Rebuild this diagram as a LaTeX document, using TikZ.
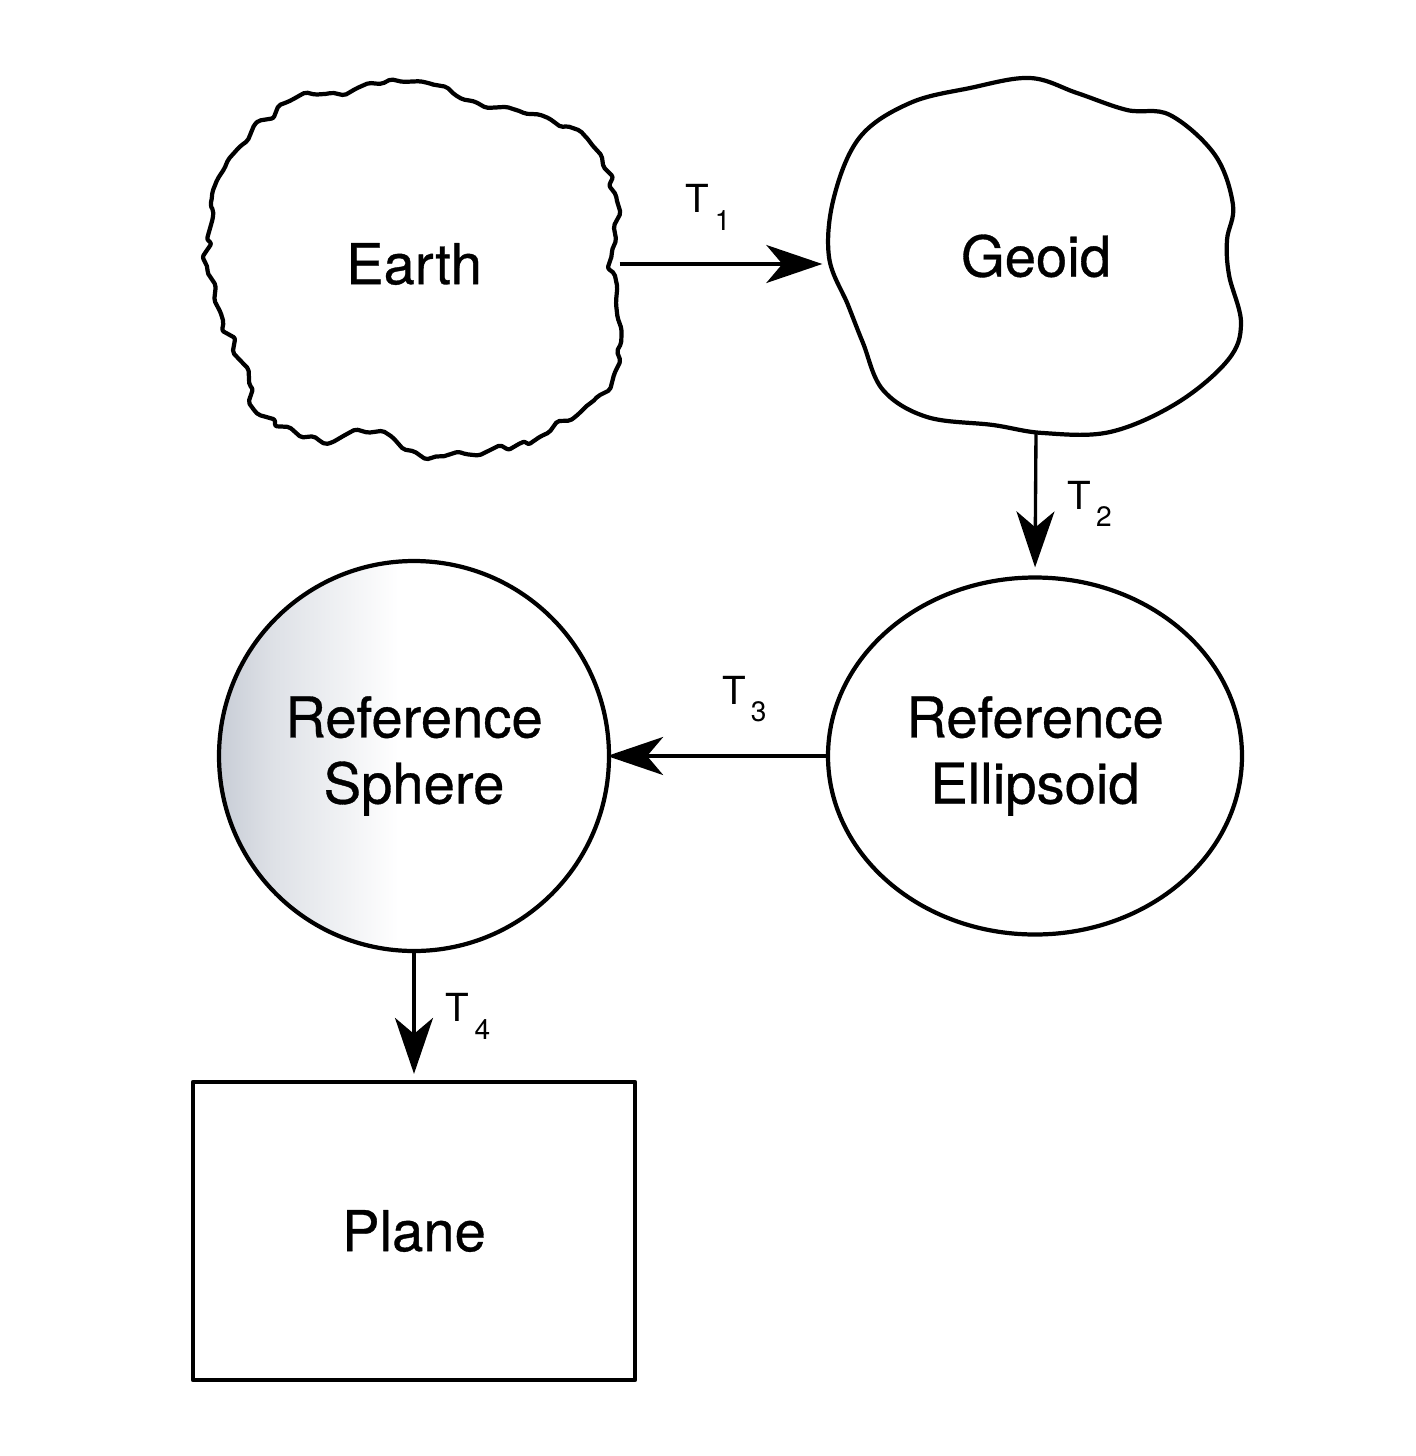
\documentclass[tikz,border=0pt]{standalone}
\usepackage{fontspec}
\setmainfont{TeX Gyre Heros}[BoldFont=TeX Gyre Heros, BoldFeatures={FakeBold=0.6}]
\usepackage{tikz}
\usetikzlibrary{arrows.meta,shapes.geometric,decorations.pathmorphing}

\definecolor{sphereshade}{RGB}{200,205,214}
\pgfdeclarehorizontalshading{spherefade}{100bp}{color(0bp)=(sphereshade); color(25bp)=(sphereshade); color(32bp)=(sphereshade!60); color(48bp)=(white); color(100bp)=(white)}
\newcommand{\tlab}[1]{T\kern1.5pt\raisebox{-5pt}{\fontsize{8}{8}\selectfont #1}}

\begin{document}
\begin{tikzpicture}[x=0.1mm,y=-0.1mm]
\tikzstyle{every node}=[inner sep=0pt, font=\fontsize{16}{18.8}\selectfont\bfseries, align=center]
\tikzstyle{outline}=[line width=1.2pt, line join=round]
\tikzstyle{conn}=[line width=0.95pt, -{Stealth[length=5.6mm, width=3.8mm, inset=1.6mm]}]
\tikzstyle{tnode}=[font=\fontsize{11}{11}\selectfont\mdseries]
\useasboundingbox (0,0) rectangle (1415,1456);
\pgfmathsetseed{11}
% rough earth and smooth geoid
\draw[outline, rounded corners=0.6pt, decorate, decoration={random steps, segment length=3.2pt, amplitude=1.5pt}]
  plot[smooth cycle] coordinates {(380,84) (430,84) (473,101) (523,113) (590,143) (616,197) (612,253) (616,303) (619,363) (590,403) (523,442) (440,456) (370,433) (323,442) (257,413) (250,387) (223,320) (208,270) (211,203) (240,147) (290,101) (330,93)};
\draw[outline] plot[smooth cycle, tension=0.6] coordinates {(1030,78) (1077,93) (1127,110) (1170,115) (1215,155) (1233,205) (1227,240) (1229,275) (1241,323) (1228,360) (1177,403) (1110,432) (1043,433) (993,425) (927,417) (883,390) (863,343) (848,305) (829,257) (834,197) (860,137) (910,103) (970,88)};
\draw (414,264) node (earth) [ellipse, minimum width=4.1cm, minimum height=3.7cm] {Earth};
\draw (1036,256) node (geoid) [ellipse, minimum width=4.1cm, minimum height=3.52cm] {Geoid};
\draw (1035,756) node (ellipsoid) [outline, draw, ellipse, minimum width=4.14cm, minimum height=3.57cm] {Reference\\Ellipsoid};
\draw (414,756) node (sphere) [outline, draw, circle, shade, shading=spherefade, minimum size=3.9cm] {Reference\\Sphere};
\draw (414,1231) node (plane) [outline, draw, rectangle, minimum width=4.42cm, minimum height=2.98cm] {Plane};
\draw[conn, shorten >=0.8mm] (earth.east) -- (earth.east -| geoid.west) node[tnode, pos=0.42, above=3.2mm] {\tlab{1}};
\draw[conn, shorten >=0.8mm] (geoid.south) -- (ellipsoid.north) node[tnode, midway, right=3mm] {\tlab{2}};
\draw[conn, shorten >=-0.4mm] (ellipsoid.west) -- (sphere.east) node[tnode, pos=0.38, above=3.2mm] {\tlab{3}};
\draw[conn, shorten >=0.6mm] (sphere.south) -- (plane.north) node[tnode, midway, right=3mm] {\tlab{4}};
\end{tikzpicture}
\end{document}
